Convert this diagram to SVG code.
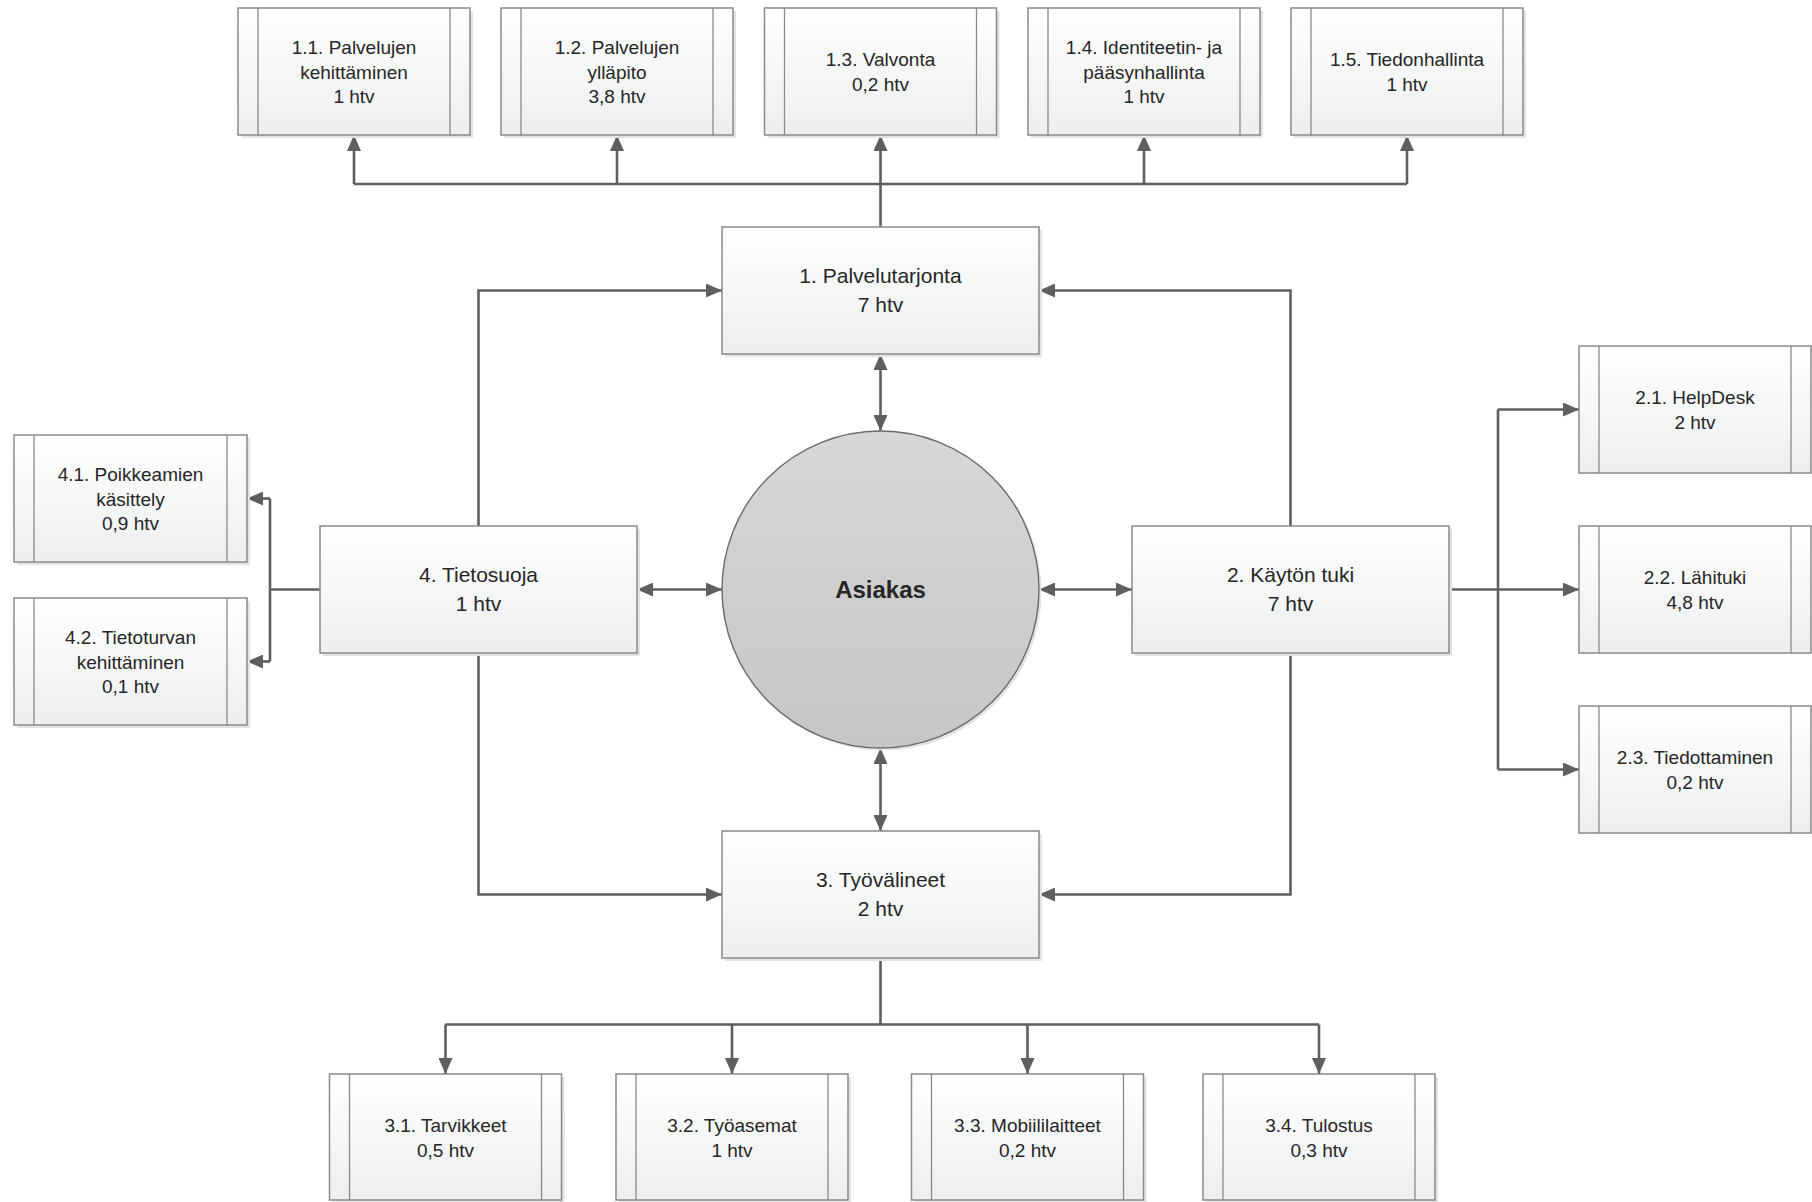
<svg xmlns="http://www.w3.org/2000/svg" width="1812" height="1202" viewBox="0 0 1812 1202">
<defs>
<linearGradient id="boxg" x1="0" y1="0" x2="0" y2="1">
<stop offset="0" stop-color="#ffffff"/>
<stop offset="1" stop-color="#edeef0"/>
</linearGradient>
<linearGradient id="circg" x1="0" y1="0" x2="0" y2="1">
<stop offset="0" stop-color="#d7d7d7"/>
<stop offset="1" stop-color="#c6c6c6"/>
</linearGradient>
<marker id="arr" markerUnits="userSpaceOnUse" markerWidth="16" markerHeight="14" viewBox="0 0 16 14" refX="16" refY="7" orient="auto-start-reverse">
<path d="M0,0 L16,7 L0,14 Z" fill="#5f5f5f"/>
</marker>
</defs>
<style>
.sh{fill:#e3e3e3}
.bx{fill:url(#boxg);stroke:#8a8a8a;stroke-width:1.5}
.in{stroke:#8a8a8a;stroke-width:1.3;fill:none}
.t{font-family:"Liberation Sans",Arial,sans-serif;font-size:19px;fill:#262626;text-anchor:middle}
.tb{font-family:"Liberation Sans",Arial,sans-serif;font-size:21px;fill:#262626;text-anchor:middle}
.ta{font-family:"Liberation Sans",Arial,sans-serif;font-size:24px;font-weight:bold;fill:#262626;text-anchor:middle}
.c{fill:none;stroke:#5f5f5f;stroke-width:2.6}
.a{marker-end:url(#arr)}
.a2{marker-start:url(#arr);marker-end:url(#arr)}
</style>
<rect width="1812" height="1202" fill="#ffffff"/>

<g id="connectors">
<path class="c" d="M880.5,227 V184 M354,184 H1407"/>
<path class="c a" d="M354,184 V135"/>
<path class="c a" d="M617,184 V135"/>
<path class="c a" d="M880.5,184 V135"/>
<path class="c a" d="M1144,184 V135"/>
<path class="c a" d="M1407,184 V135"/>
<path class="c a2" d="M880.5,354 V431"/>
<path class="c a2" d="M880.5,748 V831"/>
<path class="c a2" d="M637,589.5 H722"/>
<path class="c a2" d="M1039,589.5 H1132"/>
<path class="c a" d="M478.5,526 V290.5 H722"/>
<path class="c a" d="M1290.5,526 V290.5 H1039"/>
<path class="c a" d="M478.5,653 V894.5 H722"/>
<path class="c a" d="M1290.5,653 V894.5 H1039"/>
<path class="c" d="M880.5,958 V1024.5 M445.5,1024.5 H1319"/>
<path class="c a" d="M445.5,1024.5 V1074"/>
<path class="c a" d="M732,1024.5 V1074"/>
<path class="c a" d="M1027.5,1024.5 V1074"/>
<path class="c a" d="M1319,1024.5 V1074"/>
<path class="c" d="M320,589.5 H270 M270,498.5 V661.5"/>
<path class="c a" d="M270,498.5 H247"/>
<path class="c a" d="M270,661.5 H247"/>
<path class="c" d="M1449,589.5 H1498 M1498,409.5 V769.5"/>
<path class="c a" d="M1498,589.5 H1579"/>
<path class="c a" d="M1498,409.5 H1579"/>
<path class="c a" d="M1498,769.5 H1579"/>
</g>

<g id="asiakas">
<circle class="sh" cx="883" cy="592" r="158.5"/>
<circle cx="880.5" cy="589.5" r="158.5" fill="url(#circg)" stroke="#6a6a6a" stroke-width="1.4"/>
<text class="ta" x="880.5" y="598">Asiakas</text>
</g>

<g id="n1">
<rect class="sh" x="725" y="230" width="317" height="127"/>
<rect class="bx" x="722" y="227" width="317" height="127"/>
<text class="tb" x="880.5" y="282.5">1. Palvelutarjonta</text>
<text class="tb" x="880.5" y="311.5">7 htv</text>
</g>
<g id="n2">
<rect class="sh" x="1135" y="529" width="317" height="127"/>
<rect class="bx" x="1132" y="526" width="317" height="127"/>
<text class="tb" x="1290.5" y="581.5">2. Käytön tuki</text>
<text class="tb" x="1290.5" y="610.5">7 htv</text>
</g>
<g id="n3">
<rect class="sh" x="725" y="834" width="317" height="127"/>
<rect class="bx" x="722" y="831" width="317" height="127"/>
<text class="tb" x="880.5" y="886.5">3. Työvälineet</text>
<text class="tb" x="880.5" y="915.5">2 htv</text>
</g>
<g id="n4">
<rect class="sh" x="323" y="529" width="317" height="127"/>
<rect class="bx" x="320" y="526" width="317" height="127"/>
<text class="tb" x="478.5" y="581.5">4. Tietosuoja</text>
<text class="tb" x="478.5" y="610.5">1 htv</text>
</g>

<g id="n11">
<rect class="sh" x="241" y="11" width="232" height="127"/>
<rect class="bx" x="238" y="8" width="232" height="127"/>
<path class="in" d="M258,8 V135 M450,8 V135"/>
<text class="t" x="354" y="54">1.1. Palvelujen</text>
<text class="t" x="354" y="78.5">kehittäminen</text>
<text class="t" x="354" y="103">1 htv</text>
</g>
<g id="n12">
<rect class="sh" x="504" y="11" width="232" height="127"/>
<rect class="bx" x="501" y="8" width="232" height="127"/>
<path class="in" d="M521,8 V135 M713,8 V135"/>
<text class="t" x="617" y="54">1.2. Palvelujen</text>
<text class="t" x="617" y="78.5">ylläpito</text>
<text class="t" x="617" y="103">3,8 htv</text>
</g>
<g id="n13">
<rect class="sh" x="767.5" y="11" width="232" height="127"/>
<rect class="bx" x="764.5" y="8" width="232" height="127"/>
<path class="in" d="M784.5,8 V135 M976.5,8 V135"/>
<text class="t" x="880.5" y="66.25">1.3. Valvonta</text>
<text class="t" x="880.5" y="90.75">0,2 htv</text>
</g>
<g id="n14">
<rect class="sh" x="1031" y="11" width="232" height="127"/>
<rect class="bx" x="1028" y="8" width="232" height="127"/>
<path class="in" d="M1048,8 V135 M1240,8 V135"/>
<text class="t" x="1144" y="54">1.4. Identiteetin- ja</text>
<text class="t" x="1144" y="78.5">pääsynhallinta</text>
<text class="t" x="1144" y="103">1 htv</text>
</g>
<g id="n15">
<rect class="sh" x="1294" y="11" width="232" height="127"/>
<rect class="bx" x="1291" y="8" width="232" height="127"/>
<path class="in" d="M1311,8 V135 M1503,8 V135"/>
<text class="t" x="1407" y="66.25">1.5. Tiedonhallinta</text>
<text class="t" x="1407" y="90.75">1 htv</text>
</g>

<g id="n21">
<rect class="bx" x="1579" y="346" width="232" height="127"/>
<path class="in" d="M1599,346 V473 M1791,346 V473"/>
<text class="t" x="1695" y="404.25">2.1. HelpDesk</text>
<text class="t" x="1695" y="428.75">2 htv</text>
</g>
<g id="n22">
<rect class="bx" x="1579" y="526" width="232" height="127"/>
<path class="in" d="M1599,526 V653 M1791,526 V653"/>
<text class="t" x="1695" y="584.25">2.2. Lähituki</text>
<text class="t" x="1695" y="608.75">4,8 htv</text>
</g>
<g id="n23">
<rect class="bx" x="1579" y="706" width="232" height="127"/>
<path class="in" d="M1599,706 V833 M1791,706 V833"/>
<text class="t" x="1695" y="764.25">2.3. Tiedottaminen</text>
<text class="t" x="1695" y="788.75">0,2 htv</text>
</g>

<g id="n31">
<rect class="sh" x="332.5" y="1077" width="232" height="126"/>
<rect class="bx" x="329.5" y="1074" width="232" height="126"/>
<path class="in" d="M349.5,1074 V1200 M541.5,1074 V1200"/>
<text class="t" x="445.5" y="1132.25">3.1. Tarvikkeet</text>
<text class="t" x="445.5" y="1156.75">0,5 htv</text>
</g>
<g id="n32">
<rect class="sh" x="619" y="1077" width="232" height="126"/>
<rect class="bx" x="616" y="1074" width="232" height="126"/>
<path class="in" d="M636,1074 V1200 M828,1074 V1200"/>
<text class="t" x="732" y="1132.25">3.2. Työasemat</text>
<text class="t" x="732" y="1156.75">1 htv</text>
</g>
<g id="n33">
<rect class="sh" x="914.5" y="1077" width="232" height="126"/>
<rect class="bx" x="911.5" y="1074" width="232" height="126"/>
<path class="in" d="M931.5,1074 V1200 M1123.5,1074 V1200"/>
<text class="t" x="1027.5" y="1132.25">3.3. Mobiililaitteet</text>
<text class="t" x="1027.5" y="1156.75">0,2 htv</text>
</g>
<g id="n34">
<rect class="sh" x="1206" y="1077" width="232" height="126"/>
<rect class="bx" x="1203" y="1074" width="232" height="126"/>
<path class="in" d="M1223,1074 V1200 M1415,1074 V1200"/>
<text class="t" x="1319" y="1132.25">3.4. Tulostus</text>
<text class="t" x="1319" y="1156.75">0,3 htv</text>
</g>

<g id="n41">
<rect class="sh" x="17" y="438" width="233" height="127"/>
<rect class="bx" x="14" y="435" width="233" height="127"/>
<path class="in" d="M34,435 V562 M227,435 V562"/>
<text class="t" x="130.5" y="481">4.1. Poikkeamien</text>
<text class="t" x="130.5" y="505.5">käsittely</text>
<text class="t" x="130.5" y="530">0,9 htv</text>
</g>
<g id="n42">
<rect class="sh" x="17" y="601" width="233" height="127"/>
<rect class="bx" x="14" y="598" width="233" height="127"/>
<path class="in" d="M34,598 V725 M227,598 V725"/>
<text class="t" x="130.5" y="644">4.2. Tietoturvan</text>
<text class="t" x="130.5" y="668.5">kehittäminen</text>
<text class="t" x="130.5" y="693">0,1 htv</text>
</g>
</svg>
